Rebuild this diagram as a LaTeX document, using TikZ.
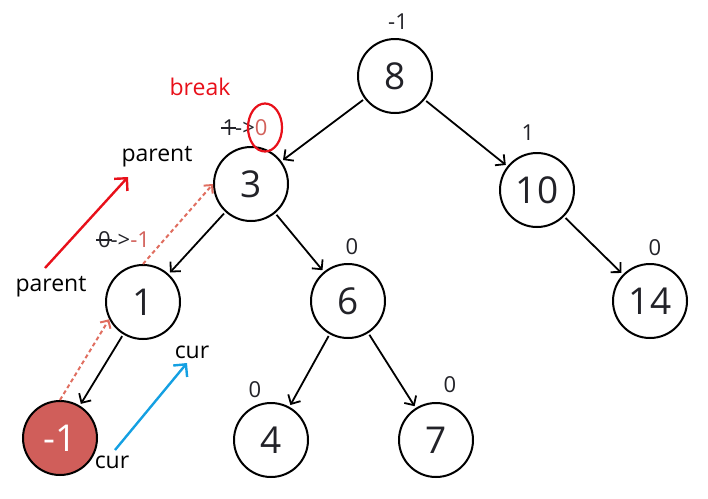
\documentclass[tikz,border=0pt]{standalone}
\usepackage{fontspec}
\setmainfont{Open Sans}
\usetikzlibrary{arrows.meta}
\definecolor{nodered}{RGB}{208,94,90}
\definecolor{dotred}{RGB}{224,110,96}
\definecolor{brightred}{RGB}{232,16,26}
\definecolor{cyanblue}{RGB}{20,160,226}
\definecolor{ink}{RGB}{34,34,40}
\definecolor{labred}{RGB}{210,96,90}
\newcommand{\strk}[1]{\makebox[0pt][l]{\hspace{-0.08em}\rule[0.33em]{0.7em}{0.07em}}#1}
\begin{document}
\begin{tikzpicture}[x=1pt,y=-1pt,
 tnode/.style={circle, draw, line width=2pt, minimum size=74pt, inner sep=0pt, font=\fontsize{37}{40}\selectfont, text=ink},
 edge/.style={-{Straight Barb[length=7pt,width=14pt]}, line width=1.8pt, shorten >=2pt, shorten <=2pt},
 lbl/.style={font=\fontsize{22}{24}\selectfont, text=ink, inner sep=0pt},
 word/.style={font=\fontsize{23}{25}\selectfont, text=black, inner sep=0pt},
 dots/.style={dotred, line width=2pt, dash pattern=on 4pt off 3pt, -{Straight Barb[length=6pt,width=12pt]}},
 hand/.style={line width=2.4pt, -{Straight Barb[length=9pt,width=18pt]}},
]
\useasboundingbox (0,0) rectangle (708,498);
\node[tnode] (n8) at (395,76) {8};
\node[tnode] (n3) at (251,184) {3};
\node[tnode] (n10) at (537,190) {10};
\node[tnode] (n1) at (143,302) {1};
\node[tnode] (n6) at (348,301) {6};
\node[tnode] (n14) at (650,301) {14};
\node[tnode, fill=nodered, text=white] (nm1) at (60,438) {-1};
\node[tnode] (n4) at (271,440) {4};
\node[tnode] (n7) at (436,440) {7};

\draw[edge] (n8) -- (n3);
\draw[edge] (n8) -- (n10);
\draw[edge] (n3) -- (n1);
\draw[edge] (n3) -- (n6);
\draw[edge] (n10) -- (n14);
\draw[edge] (n1) -- (nm1);
\draw[edge] (n6) -- (n4);
\draw[edge] (n6) -- (n7);

\draw[dots] (n1.north) -- (n3.west);
\draw[dots] (nm1.north) -- (n1.207);

\node[lbl] (l8) at (398,22) {-1};
\node[lbl] (l10) at (528,133) {1};
\node[lbl] (l6) at (352,247) {0};
\node[lbl] (l14) at (655,248) {0};
\node[lbl] (l4) at (255,390) {0};
\node[lbl] (l7) at (450,385) {0};
\node[lbl] (l3) at (245,128) {\strk{1}->\textcolor{labred}{0}};
\node[lbl] (l1) at (124,240) {\strk{0}->\textcolor{labred}{-1}};
\draw[brightred, line width=2.2pt] (265,127.5) ellipse [x radius=17, y radius=24];

\node[word, text=brightred] (brk) at (200,87) {break};
\node[word] (pa) at (157,157) {parent};
\node[word] (pb) at (51,287) {parent};
\node[word] (ca) at (192,352) {cur};
\node[word] (cb) at (112,462) {cur};
\coordinate (ra) at (45,268);
\coordinate (rb) at (128,177);
\coordinate (ba) at (115,450);
\coordinate (bb) at (187,363);
\draw[hand, brightred] (ra) -- (rb);
\draw[hand, cyanblue] (ba) -- (bb);
\end{tikzpicture}
\end{document}
